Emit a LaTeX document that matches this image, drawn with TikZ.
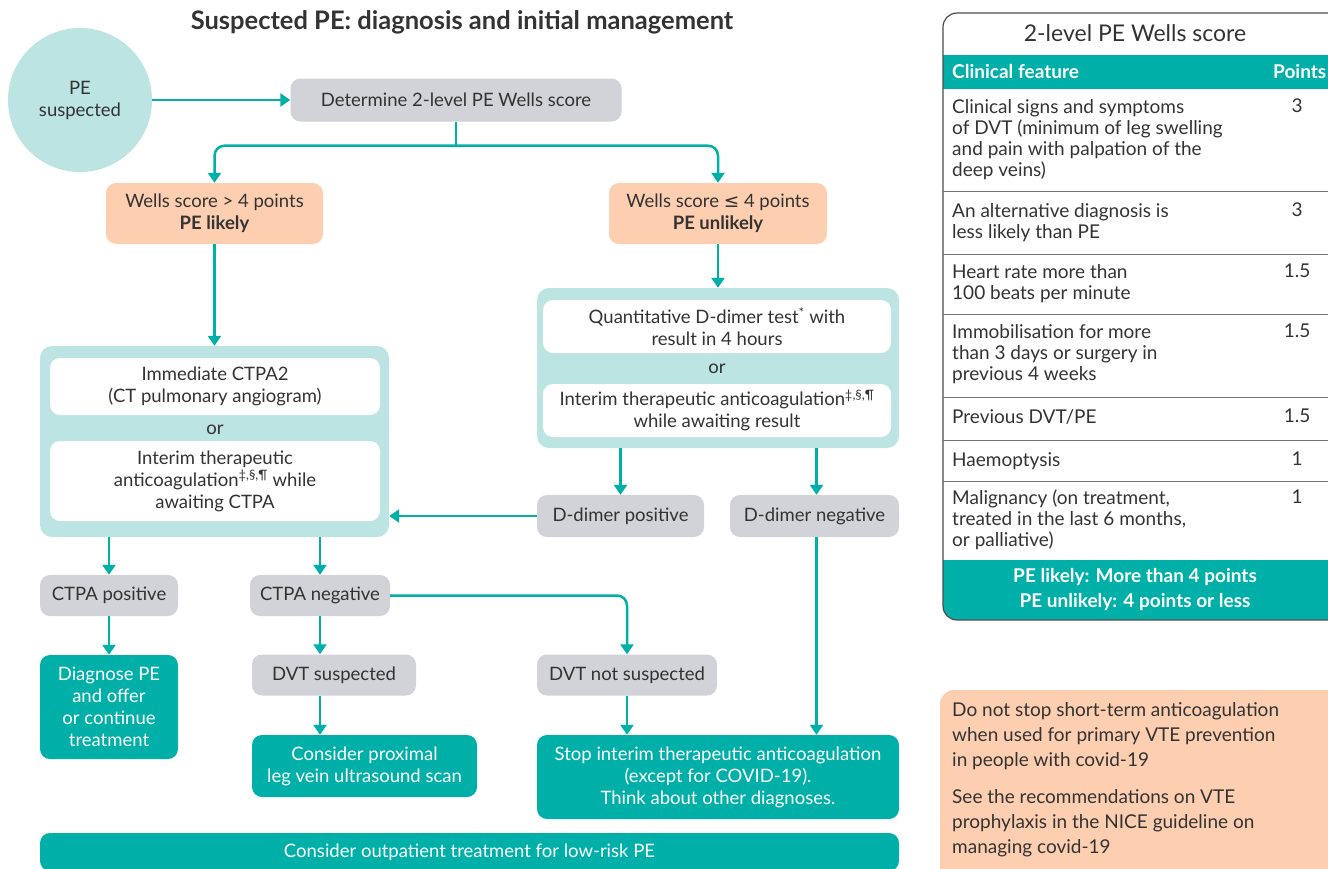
\documentclass[tikz,border=0pt]{standalone}
\usepackage{fontspec}
\setmainfont{Lato}
\newfontfamily\symfont{DejaVu Sans}
\usetikzlibrary{arrows.meta}
\definecolor{peteal}{HTML}{00B0A8}
\definecolor{pelight}{HTML}{BCE4E2}
\definecolor{pegrey}{HTML}{D2D3D8}
\definecolor{peorange}{HTML}{FDCFB0}
\definecolor{petext}{HTML}{333333}
\tikzstyle{pestyle}=[
    x=1pt, y=-1pt,
    >={Triangle[width=13pt,length=10pt]},
    every node/.style={font=\fontsize{18.5}{22}\selectfont, text=petext},
]
\tikzstyle{pebox}=[rounded corners=10pt, align=center, inner sep=0pt]
\tikzstyle{greybox}=[pebox, fill=pegrey]
\tikzstyle{orangebox}=[pebox, fill=peorange]
\tikzstyle{tealbox}=[pebox, fill=peteal, text=white]
\tikzstyle{whitebox}=[pebox, fill=white]
\tikzstyle{holder}=[pebox, fill=pelight, rounded corners=12pt]
\tikzstyle{link}=[->, draw=peteal, line width=2.5pt, rounded corners=10pt]
\tikzstyle{feature}=[anchor=north west, align=left, inner sep=0pt, font=\fontsize{19}{21}\selectfont]
\tikzstyle{points}=[anchor=north, inner sep=0pt, font=\fontsize{19}{21}\selectfont]
\tikzstyle{rowline}=[draw=black!55, line width=1pt]

\begin{document}
\begin{tikzpicture}[pestyle]
        \useasboundingbox (0,0) rectangle (1328,868);
        \node (title) at (462,22) [font=\fontsize{25.5}{28}\selectfont\bfseries] {Suspected PE: diagnosis and initial management};
        \node (start) at (80,100) [circle, fill=pelight, minimum size=144pt, align=center, inner sep=0pt] {PE\\suspected};
        \node (det) at (456,100) [greybox, minimum width=331pt, minimum height=43pt] {Determine 2-level PE Wells score};
        \node (likely) at (214.5,213.5) [orangebox, minimum width=217pt, minimum height=61pt] {Wells score > 4 points\\\textbf{PE likely}};
        \node (unlikely) at (718,213.5) [orangebox, minimum width=218pt, minimum height=61pt] {Wells score {\symfont ≤} 4 points\\\textbf{PE unlikely}};

        \node (ctpabox) at (214.5,441.5) [holder, minimum width=349pt, minimum height=191pt] {};
        \node (ctpa) at (215,386.5) [whitebox, minimum width=330pt, minimum height=57pt] {Immediate CTPA2\\(CT pulmonary angiogram)};
        \node (orL) at (215,430) {or};
        \node (interimL) at (215,481) [whitebox, minimum width=330pt, minimum height=80pt] {Interim therapeutic\\anticoagulation\textsuperscript{‡,§,¶} while\\awaiting CTPA};

        \node (ddbox) at (718,368) [holder, minimum width=362pt, minimum height=160pt] {};
        \node (ddtest) at (717,326.5) [whitebox, minimum width=348pt, minimum height=53pt] {Quantitative D-dimer test\textsuperscript{*} with\\result in 4 hours};
        \node (orR) at (717,369) {or};
        \node (interimR) at (717,410.5) [whitebox, minimum width=348pt, minimum height=53pt] {Interim therapeutic anticoagulation\textsuperscript{‡,§,¶}\\while awaiting result};

        \node (ddpos) at (620.5,516) [greybox, minimum width=167pt, minimum height=42pt] {D-dimer positive};
        \node (ddneg) at (814.5,516) [greybox, minimum width=169pt, minimum height=42pt] {D-dimer negative};
        \node (ctpapos) at (109,595.5) [greybox, minimum width=138pt, minimum height=41pt] {CTPA positive};
        \node (ctpaneg) at (320,595.5) [greybox, minimum width=140pt, minimum height=41pt] {CTPA negative};
        \node (diagnose) at (109,707) [tealbox, minimum width=138pt, minimum height=104pt] {Diagnose PE\\and offer\\or continue\\treatment};
        \node (dvt) at (334,675) [greybox, minimum width=164pt, minimum height=41pt] {DVT suspected};
        \node (dvtno) at (627,675) [greybox, minimum width=180pt, minimum height=41pt] {DVT not suspected};
        \node (scan) at (364.5,766) [tealbox, minimum width=225pt, minimum height=62pt] {Consider proximal\\leg vein ultrasound scan};
        \node (stop) at (718,777) [tealbox, minimum width=362pt, minimum height=84pt] {Stop interim therapeutic anticoagulation\\(except for COVID-19).\\Think about other diagnoses.};
        \node (outpatient) at (469.5,852) [tealbox, minimum width=859pt, minimum height=38pt] {Consider outpatient treatment for low-risk PE};

        \draw[link, -] (det.south) -- ++(0,24) coordinate (split);
        \draw[link] (start.east) -- (det.west);
        \draw[link] (split) -| (likely.north);
        \draw[link] (split) -| (unlikely.north);
        \draw[link] (likely.south) -- (ctpabox.north);
        \draw[link] (unlikely.south) -- (ddbox.north);
        \draw[link] (ddpos.north |- ddbox.south) -- (ddpos.north);
        \draw[link] ([xshift=2pt]ddneg.north |- ddbox.south) -- ([xshift=2pt]ddneg.north);
        \draw[link] (ddpos.west) -- (ctpabox.east |- ddpos.west);
        \draw[link] (ctpapos.north |- ctpabox.south) -- (ctpapos.north);
        \draw[link] (ctpaneg.north |- ctpabox.south) -- (ctpaneg.north);
        \draw[link] (ctpapos.south) -- (diagnose.north);
        \draw[link] (ctpaneg.south) -- (ctpaneg.south |- dvt.north);
        \draw[link] (ctpaneg.east) -| (dvtno.north);
        \draw[link] (ctpaneg.south |- dvt.south) -- (ctpaneg.south |- scan.north);
        \draw[link] (dvtno.south) -- (dvtno.south |- stop.north);
        \draw[link] ([xshift=2pt]ddneg.south) -- ([xshift=2pt]ddneg.south |- stop.north);

        \begin{scope}
            \clip[rounded corners=14pt] (943,13) rectangle (1360,620);
            \fill[peteal] (943,55) rectangle (1360,89);
            \fill[peteal] (943,560) rectangle (1360,620);
        \end{scope}
        \draw[draw=black!70, line width=1.2pt, rounded corners=14pt] (943,13) rectangle (1360,620);
        \foreach \y in {191,254,314,397,440,481}
            \draw[rowline] (943,\y) -- (1328,\y);
        \node (wells) at (1135,33) [font=\fontsize{23}{26}\selectfont] {2-level PE Wells score};
        \node (feathead) at (952,72) [anchor=west, inner sep=0pt, text=white, font=\fontsize{19}{21}\selectfont\bfseries] {Clinical feature};
        \node (pointhead) at (1273,72) [anchor=west, inner sep=0pt, text=white, font=\fontsize{19}{21}\selectfont\bfseries] {Points};
        \node (f1) at (952,99) [feature] {Clinical signs and symptoms\\of DVT (minimum of leg swelling\\and pain with palpation of the\\deep veins)};
        \node (p1) at (1297,99) [points] {3};
        \node (f2) at (952,203) [feature] {An alternative diagnosis is\\less likely than PE};
        \node (p2) at (1297,203) [points] {3};
        \node (f3) at (952,264) [feature] {Heart rate more than\\100 beats per minute};
        \node (p3) at (1297,264) [points] {1.5};
        \node (f4) at (952,324) [feature] {Immobilisation for more\\than 3 days or surgery in\\previous 4 weeks};
        \node (p4) at (1297,324) [points] {1.5};
        \node (f5) at (952,409) [feature] {Previous DVT/PE};
        \node (p5) at (1297,409) [points] {1.5};
        \node (f6) at (952,452) [feature] {Haemoptysis};
        \node (p6) at (1297,452) [points] {1};
        \node (f7) at (952,490) [feature] {Malignancy (on treatment,\\treated in the last 6 months,\\or palliative)};
        \node (p7) at (1297,490) [points] {1};
        \node (verdict) at (1135,590) [align=center, text=white, font=\fontsize{19}{25}\selectfont\bfseries] {PE likely: More than 4 points\\PE unlikely: 4 points or less};

        \fill[peorange, rounded corners=14pt] (940,690) rectangle (1360,900);
        \node (note1) at (952,702) [feature, font=\fontsize{19}{25}\selectfont] {Do not stop short-term anticoagulation\\when used for primary VTE prevention\\in people with covid-19};
        \node (note2) at (952,789) [feature, font=\fontsize{19}{25}\selectfont] {See the recommendations on VTE\\prophylaxis in the NICE guideline on\\managing covid-19};
    \end{tikzpicture}
\end{document}
